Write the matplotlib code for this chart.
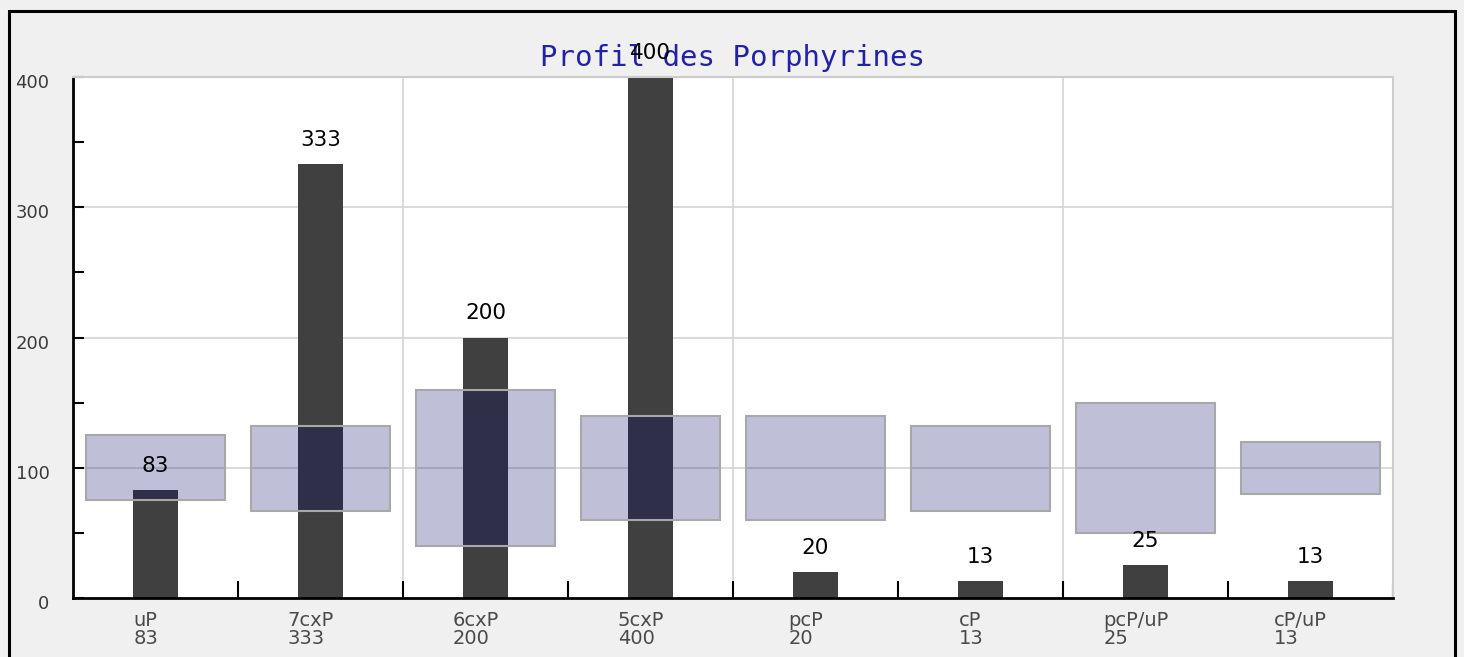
import matplotlib.pyplot as plt
from matplotlib.patches import Rectangle
from matplotlib.transforms import ScaledTranslation
import numpy as np

# données du profil
categories = ["uP", "7cxP", "6cxP", "5cxP", "pcP", "cP", "pcP/uP", "cP/uP"]
valeurs = [83, 333, 200, 400, 20, 13, 25, 13]
ref_bas = [75, 67, 40, 60, 60, 67, 50, 80]
ref_haut = [125, 132, 160, 140, 140, 132, 150, 120]

fig = plt.figure(figsize=(14.64, 6.57), dpi=100)
fig.patch.set_facecolor("#f0f0f0")
fig.patches.append(Rectangle((9 / 1464, -0.1), 1446 / 1464, 1.1 - 11 / 657,
                             transform=fig.transFigure, fill=False,
                             edgecolor="black", linewidth=2.2))

ax = fig.add_axes([73 / 1464, 59 / 657, 1320 / 1464, 521 / 657])
ax.set_facecolor("white")

x = np.arange(len(categories))
ax.set_xlim(-0.5, len(categories) - 0.5)
ax.set_ylim(0, 400)

# grille
for yv in [100, 200, 300, 400]:
    ax.axhline(yv, color="#d4d4d4", lw=1.2, zorder=1)
for xv in [1.5, 3.5, 5.5]:
    ax.axvline(xv, color="#d4d4d4", lw=1.2, zorder=1)

hauteurs = np.array(ref_haut) - np.array(ref_bas)
ax.bar(x, valeurs, width=0.27, color="#404040", zorder=2)
ax.bar(x, hauteurs, bottom=ref_bas, width=0.84,
       color="#000066", alpha=0.25, linewidth=0, zorder=3)
ax.bar(x, hauteurs, bottom=ref_bas, width=0.84, fill=False,
       edgecolor="#a8a8a8", linewidth=1.5, zorder=3)

for xi, v in zip(x, valeurs):
    ax.text(xi, v + 11, str(v), ha="center", va="bottom", fontsize=15.5,
            color="black", zorder=5, clip_on=False)

ax.text(0.5, 1.037, "Profil des Porphyrines", transform=ax.transAxes,
        ha="center", va="center", fontsize=21, family="DejaVu Sans Mono",
        color="#2222a6", zorder=4)

for s in ["top", "right"]:
    ax.spines[s].set_color("#cccccc")
    ax.spines[s].set_linewidth(1.5)
for s in ["left", "bottom"]:
    ax.spines[s].set_color("black")
    ax.spines[s].set_linewidth(2)

ax.set_yticks([0, 100, 200, 300, 400])
ax.set_yticks([50, 150, 250, 350], minor=True)
ax.tick_params(axis="y", which="both", direction="in", length=8, width=1.5,
               labelsize=13, labelcolor="#3a3a3a", pad=17)
ax.set_xticks(np.arange(0.5, len(categories) - 0.5), minor=True)
ax.set_xticks(x)
ax.set_xticklabels([f"{c}\n{v}" for c, v in zip(categories, valeurs)],
                   multialignment="left", linespacing=0.95)
ax.tick_params(axis="x", which="major", length=0, labelsize=14,
               labelcolor="#4a4a4a", pad=9)
ax.tick_params(axis="x", which="minor", direction="in", length=12, width=1.5)
ax.axvline(len(categories) - 0.5, ymax=12 / 521, color="black", lw=1.5)

decalage = ScaledTranslation(-7 / 72, 0, fig.dpi_scale_trans)
for lab in ax.get_xticklabels():
    lab.set_transform(lab.get_transform() + decalage)
for lab in ax.get_yticklabels():
    lab.set_transform(lab.get_transform() + ScaledTranslation(0, -3 / 72, fig.dpi_scale_trans))

fig.savefig("out.png", dpi=100, facecolor=fig.get_facecolor())
